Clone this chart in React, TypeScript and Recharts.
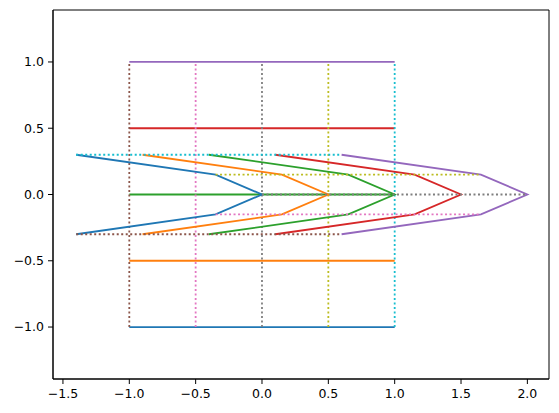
import React from "react";
import {
  LineChart,
  Line,
  XAxis,
  YAxis,
  ReferenceArea,
} from "recharts";

type Pt = { x: number; y: number };

// solid horizontal lines from x=-1 to x=1
const hLineYs = [-1, -0.5, 0, 0.5, 1];
const hLineX = [-1, 1];

// dotted vertical lines from y=-1 to y=1
const vLineXs = [-1, -0.5, 0, 0.5, 1];
const vLineY = [-1, 1];

// chevrons (tail, bend, tip, bend, tail)
const chevronBlue: Pt[] = [
  { x: -1.4, y: 0.3 },
  { x: -0.35, y: 0.15 },
  { x: 0, y: 0 },
  { x: -0.35, y: -0.15 },
  { x: -1.4, y: -0.3 },
];
const chevronOrange: Pt[] = [
  { x: -0.9, y: 0.3 },
  { x: 0.15, y: 0.15 },
  { x: 0.5, y: 0 },
  { x: 0.15, y: -0.15 },
  { x: -0.9, y: -0.3 },
];
const chevronGreen: Pt[] = [
  { x: -0.4, y: 0.3 },
  { x: 0.65, y: 0.15 },
  { x: 1.0, y: 0 },
  { x: 0.65, y: -0.15 },
  { x: -0.4, y: -0.3 },
];
const chevronRed: Pt[] = [
  { x: 0.1, y: 0.3 },
  { x: 1.15, y: 0.15 },
  { x: 1.5, y: 0 },
  { x: 1.15, y: -0.15 },
  { x: 0.1, y: -0.3 },
];
const chevronPurple: Pt[] = [
  { x: 0.6, y: 0.3 },
  { x: 1.65, y: 0.15 },
  { x: 2.0, y: 0 },
  { x: 1.65, y: -0.15 },
  { x: 0.6, y: -0.3 },
];

// dotted horizontal guides through the chevron vertices
const guideYs = [-0.3, -0.15, 0, 0.15, 0.3];
const guideXs: [number, number][] = [
  [-1.4, 0.6],
  [-0.35, 1.65],
  [0, 2.0],
  [-0.35, 1.65],
  [-1.4, 0.6],
];

const xTicks = [-1.5, -1.0, -0.5, 0.0, 0.5, 1.0, 1.5, 2.0];
const yTicks = [-1.0, -0.5, 0.0, 0.5, 1.0];

const X_DOMAIN: [number, number] = [-1.575, 2.163];
const Y_DOMAIN: [number, number] = [-1.392, 1.392];

const C10 = [
  "#1f77b4",
  "#ff7f0e",
  "#2ca02c",
  "#d62728",
  "#9467bd",
  "#8c564b",
  "#e377c2",
  "#7f7f7f",
  "#bcbd22",
  "#17becf",
];

const fmt = (v: number) => v.toFixed(1).replace("-", "\u2212");
const tickStyle = { fontSize: 12.5, fill: "#000", fontFamily: "DejaVu Sans" };
const LW = 1.8;
const DOTS = "2 2.5";

export default function App() {
  const chevrons = [chevronBlue, chevronOrange, chevronGreen, chevronRed, chevronPurple];
  return (
    <div
      style={{
        position: "absolute",
        left: 0,
        top: 0,
        width: 559,
        height: 413,
        background: "#fff",
      }}
    >
      <LineChart
        width={559}
        height={413}
        margin={{ top: 10, right: 10, bottom: 4, left: 8 }}
      >
        <XAxis
          type="number"
          dataKey="x"
          domain={X_DOMAIN}
          ticks={xTicks}
          allowDataOverflow
          tickFormatter={fmt}
          tick={tickStyle}
          tickSize={5}
          tickMargin={5}
          height={30}
          stroke="#000"
          interval={0}
        />
        <YAxis
          type="number"
          dataKey="y"
          domain={Y_DOMAIN}
          ticks={yTicks}
          allowDataOverflow
          tickFormatter={fmt}
          tick={tickStyle}
          tickSize={5}
          tickMargin={4}
          width={45}
          stroke="#000"
          interval={0}
        />
        <ReferenceArea
          x1={X_DOMAIN[0]}
          x2={X_DOMAIN[1]}
          y1={Y_DOMAIN[0]}
          y2={Y_DOMAIN[1]}
          fill="none"
          stroke="#000"
          strokeWidth={1}
          ifOverflow="visible"
        />
        {hLineYs.map((y, i) => (
          <Line
            key={`h${i}`}
            data={hLineX.map((x) => ({ x, y }))}
            dataKey="y"
            type="linear"
            stroke={C10[i]}
            strokeWidth={LW}
            dot={false}
            activeDot={false}
            isAnimationActive={false}
          />
        ))}
        {vLineXs.map((x, i) => (
          <Line
            key={`v${i}`}
            data={vLineY.map((y) => ({ x, y }))}
            dataKey="y"
            type="linear"
            stroke={C10[5 + i]}
            strokeWidth={LW}
            strokeDasharray={DOTS}
            dot={false}
            activeDot={false}
            isAnimationActive={false}
          />
        ))}
        {chevrons.map((pts, i) => (
          <Line
            key={`c${i}`}
            data={pts}
            dataKey="y"
            type="linear"
            stroke={C10[i]}
            strokeWidth={LW}
            dot={false}
            activeDot={false}
            isAnimationActive={false}
          />
        ))}
        {guideYs.map((y, i) => (
          <Line
            key={`g${i}`}
            data={guideXs[i].map((x) => ({ x, y }))}
            dataKey="y"
            type="linear"
            stroke={C10[5 + i]}
            strokeWidth={LW}
            strokeDasharray={DOTS}
            dot={false}
            activeDot={false}
            isAnimationActive={false}
          />
        ))}
      </LineChart>
    </div>
  );
}
